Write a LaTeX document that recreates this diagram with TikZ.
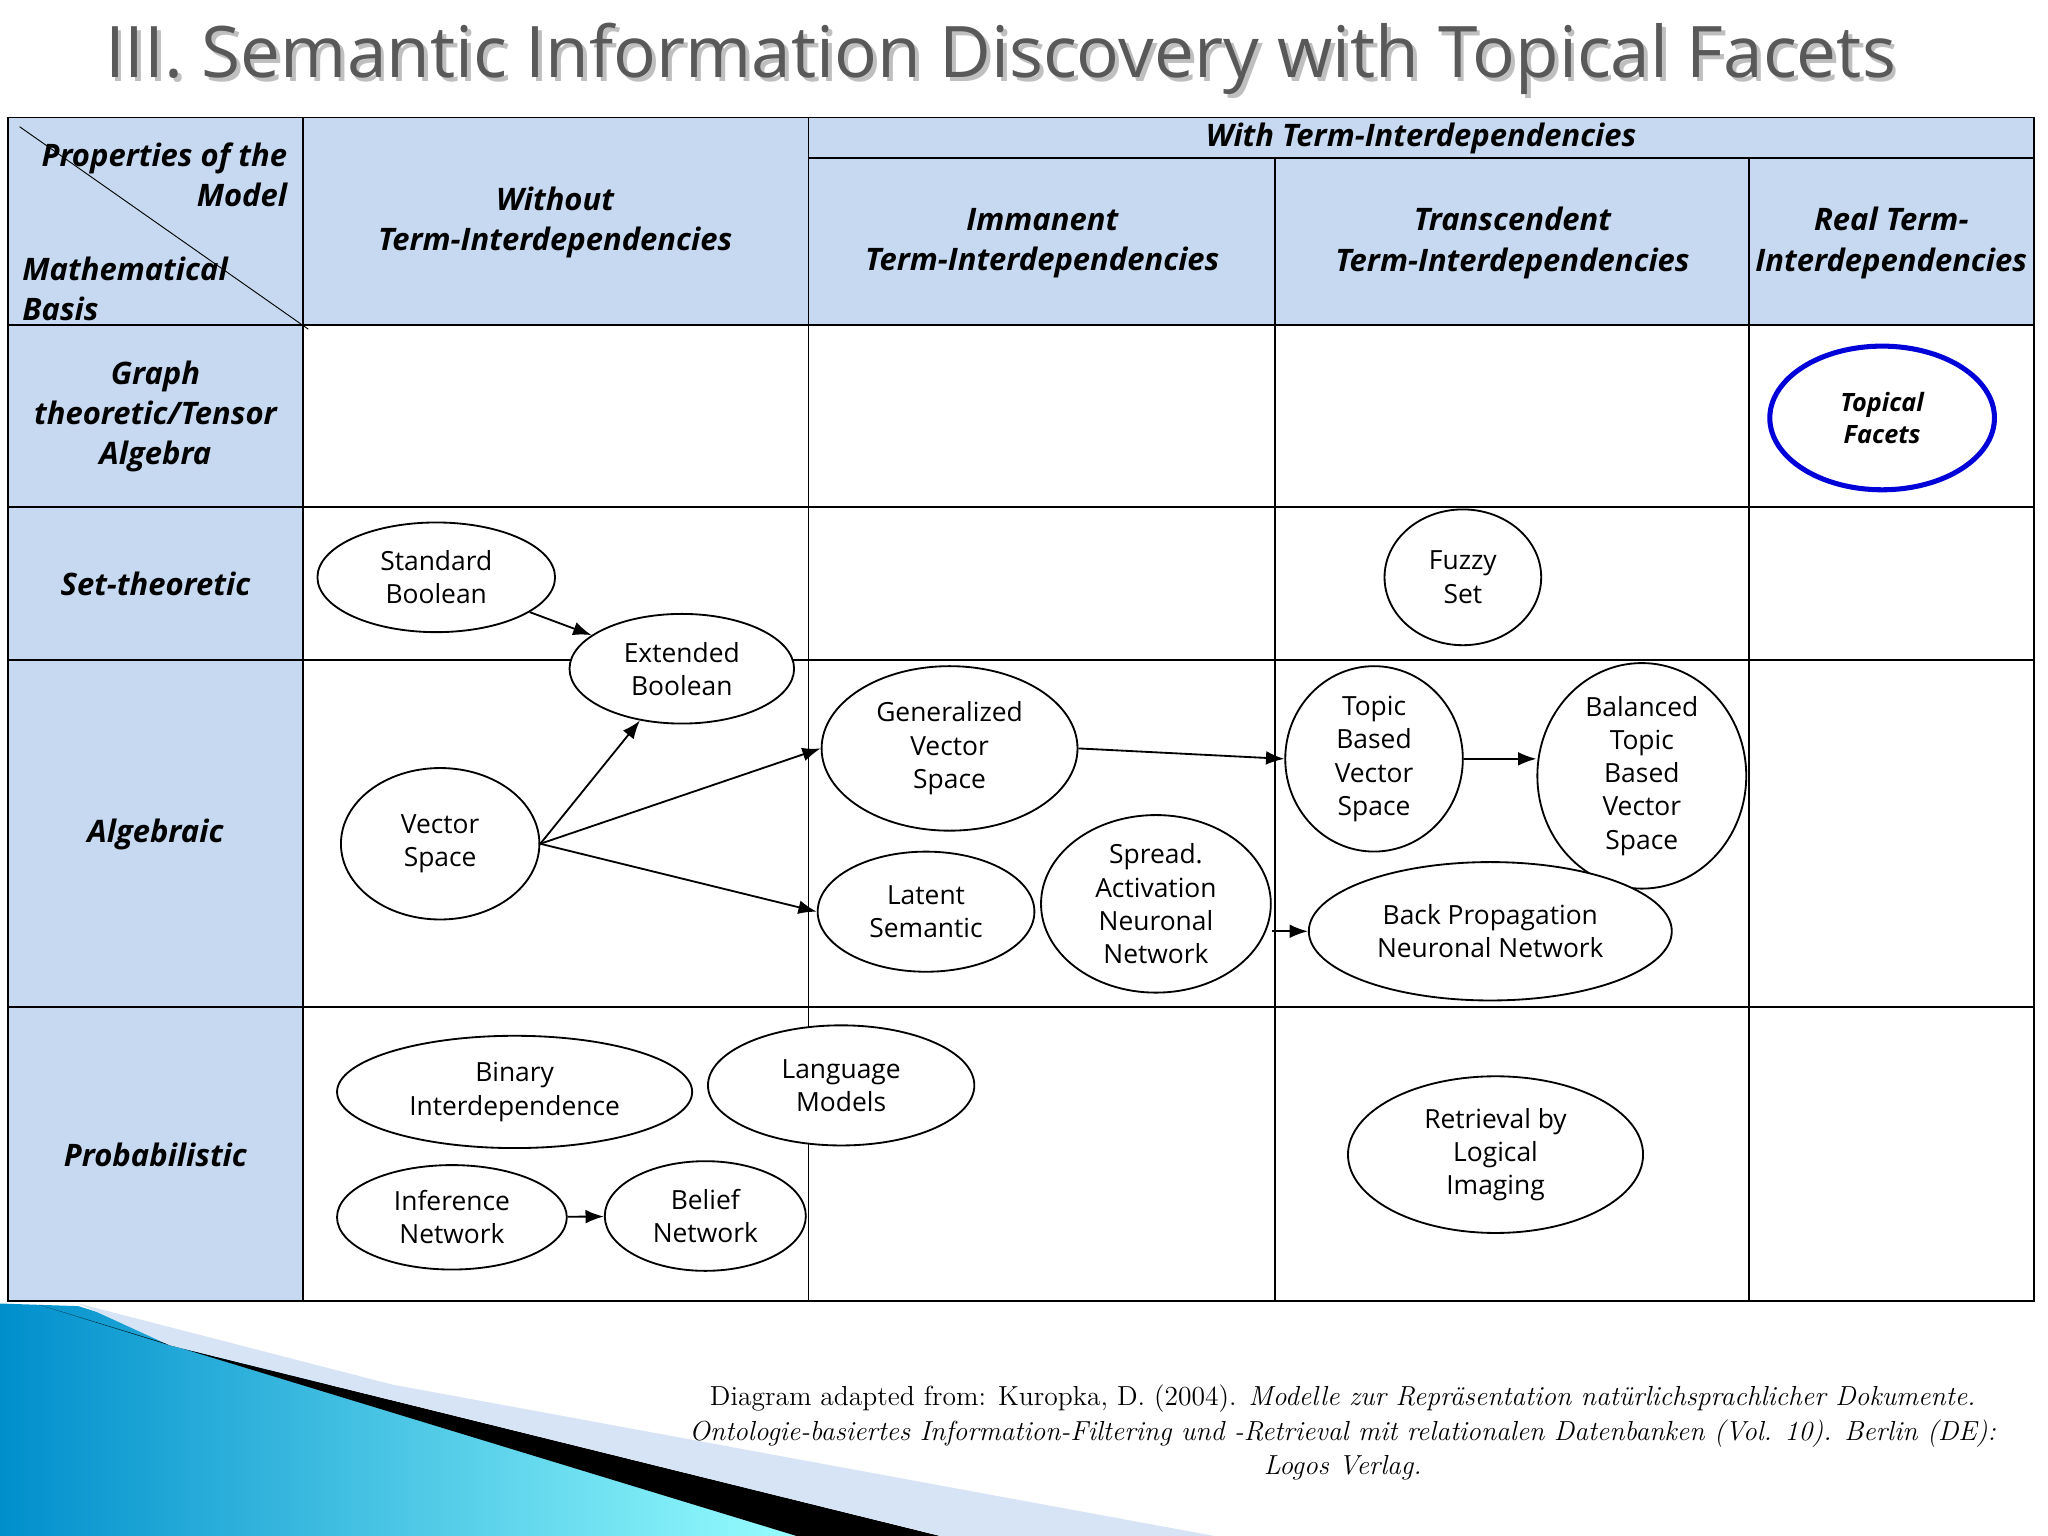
\documentclass[tikz,border=0pt]{standalone}
\usepackage{fontspec}
\setsansfont{Open Sans}
\usetikzlibrary{shapes.geometric,arrows.meta}
\definecolor{hdr}{HTML}{C6D9F0}
\definecolor{ttl}{HTML}{595959}
\tikzset{
 ov/.style args={#1/#2}{ellipse,draw,thick,fill=white,minimum width=#1*0.04cm,minimum height=#2*0.04cm,inner sep=0pt,align=center,font=\sffamily\fontsize{11.5}{14.5}\selectfont},
 hd/.style={align=center,font=\sffamily\bfseries\itshape\fontsize{13.5}{17.5}\selectfont},
 arr/.style={thick,-{Latex[length=8pt,width=6pt]}}
}
\begin{document}
\begin{tikzpicture}[x=0.02cm,y=-0.02cm]
\useasboundingbox (0,0) rectangle (1568,1176);
\fill[white] (0,0) rectangle (1568,1176);
% title
\node[font=\sffamily\fontsize{31}{36}\selectfont,text=black!25] at (769,48) {III. Semantic Information Discovery with Topical Facets};
\node[font=\sffamily\fontsize{31}{36}\selectfont,text=ttl] (title) at (766,45) {III. Semantic Information Discovery with Topical Facets};
% decoration
\shade[left color=cyan!70!blue!80!black,right color=cyan!40] (0,998) -- (60,1000) -- (620,1176) -- (0,1176) -- cycle;
\fill[black] (30,999) -- (130,1030) -- (720,1176) -- (610,1176) -- cycle;
\fill[hdr!70] (60,998) -- (300,1060) -- (930,1176) -- (720,1176) -- (130,1030) -- cycle;
% fills
\fill[hdr] (6,90) rectangle (1557,249);
\fill[hdr] (6,249) rectangle (232,996);
% grid
\draw[thick] (6,90) rectangle (1557,996);
\foreach \x in {232,619} \draw[thick] (\x,90) -- (\x,996);
\foreach \x in {976,1339} \draw[thick] (\x,121) -- (\x,996);
\draw[thick] (619,121) -- (1557,121);
\foreach \y in {249,388,505,771} \draw[thick] (6,\y) -- (1557,\y);
\draw (15,97) -- (236,252);
% headers
\node[hd,align=right,anchor=east] (pm) at (226,134) {Properties of the\\Model};
\node[hd,align=left,anchor=west] (mb) at (11,221) {Mathematical\\Basis};
\node[hd] (h1) at (425,170) {Without\\Term-Interdependencies};
\node[hd] (h0) at (1088,106) {With Term-Interdependencies};
\node[hd] (h2) at (798,186) {Immanent\\Term-Interdependencies};
\node[hd] (h3) at (1158,186) {Transcendent\\Term-Interdependencies};
\node[hd] (h4) at (1448,186) {Real Term-\\Interdependencies};
\node[hd] (r1) at (119,319) {Graph\\theoretic/Tensor\\Algebra};
\node[hd] (r2) at (119,447) {Set-theoretic};
\node[hd] (r3) at (119,639) {Algebraic};
\node[hd] (r4) at (119,884) {Probabilistic};
% ellipses
\node[ellipse,draw=blue!85!black,fill=white,line width=2.2pt,minimum width=172*0.02cm,minimum height=110*0.02cm,inner sep=0pt,align=center,font=\sffamily\bfseries\itshape\fontsize{11}{14}\selectfont] (tf) at (1441,320) {Topical\\Facets};
\node[ov=91/42] (sb) at (334,442) {Standard\\Boolean};
\node[ov=86/42] (eb) at (522,512) {Extended\\Boolean};
\node[ov=60/52] (fs) at (1120,442) {Fuzzy\\Set};
\node[ov=98/63] (gvs) at (727,573) {Generalized\\Vector\\Space};
\node[ov=68/71] (tb) at (1052,581) {Topic\\Based\\Vector\\Space};
\node[ov=80/81] (btb) at (1257,594) {Balanced\\Topic\\Based\\Vector\\Space};
\node[ov=76/58] (vs) at (337,646) {Vector\\Space};
\node[ov=83/46] (ls) at (709,698) {Latent\\Semantic};
\node[ov=88/68] (sa) at (885,692) {Spread.\\Activation\\Neuronal\\Network};
\node[ov=139/53] (bp) at (1141,713) {Back Propagation\\Neuronal Network};
\node[ov=136/43] (bi) at (394,836) {Binary\\Interdependence};
\node[ov=102/46] (lm) at (644,831) {Language\\Models};
\node[ov=88/40] (in) at (346,932) {Inference\\Network};
\node[ov=77/42] (bn) at (540,931) {Belief\\Network};
\node[ov=113/60] (rl) at (1145,884) {Retrieval by\\Logical\\Imaging};
% arrows
\draw[arr] (sb) -- (eb);
\draw[arr] (vs.east) -- (eb);
\draw[arr] (vs.east) -- (gvs.west);
\draw[arr] (vs.east) -- (ls.west);
\draw[arr] (gvs.east) -- (tb.west);
\draw[arr] (tb) -- (btb.west |- tb);
\draw[arr] (sa.east) ++(0,21) coordinate (sae) -- (bp.west |- sae);
\draw[arr] (in) -- (bn);
% footer
\node[align=center,font=\fontsize{12}{15}\selectfont] (ft) at (1028,1097) {Diagram adapted from: Kuropka, D. (2004). \textit{Modelle zur Repräsentation natürlichsprachlicher Dokumente.}\\\textit{Ontologie-basiertes Information-Filtering und -Retrieval mit relationalen Datenbanken (Vol. 10). Berlin (DE):}\\\textit{Logos Verlag.}};
\end{tikzpicture}
\end{document}
